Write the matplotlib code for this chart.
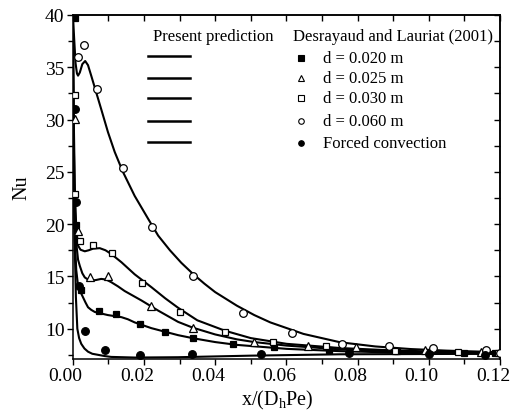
import numpy as np
import matplotlib
matplotlib.use('Agg')
import matplotlib.pyplot as plt
import matplotlib.transforms as mtransforms
from matplotlib.ticker import MultipleLocator, FormatStrFormatter

plt.rcParams['font.family'] = 'Liberation Serif'
plt.rcParams['mathtext.fontset'] = 'custom'
plt.rcParams['mathtext.rm'] = 'Liberation Serif'
plt.rcParams['mathtext.it'] = 'Liberation Serif:italic'

# Present prediction (solid curves)
x_pred_060 = [0.0, 0.0004, 0.0008, 0.0012, 0.0015, 0.002, 0.0027, 0.0035, 0.0043, 0.0052, 0.0066, 0.008,
              0.0099, 0.0118, 0.0141, 0.0174, 0.0212, 0.024, 0.0273, 0.0305, 0.0339, 0.037, 0.040, 0.0461,
              0.051, 0.0555, 0.0648, 0.0751, 0.085, 0.095, 0.105, 0.12]
y_pred_060 = [40.5, 37.8, 35.4, 34.4, 34.2, 34.5, 35.3, 35.6, 35.2, 34.2, 32.6, 31.0,
              28.8, 26.9, 25.0, 22.7, 20.5, 18.9, 17.5, 16.3, 15.2, 14.3, 13.5, 12.2,
              11.3, 10.6, 9.5, 8.7, 8.3, 8.05, 7.9, 7.75]

x_pred_030 = [0.0, 0.0003, 0.0006, 0.001, 0.0015, 0.0022, 0.0034, 0.0045, 0.0057, 0.0076, 0.0092, 0.0108,
              0.0137, 0.0174, 0.0221, 0.026, 0.0296, 0.035, 0.0428, 0.05, 0.0601, 0.0751, 0.09, 0.105, 0.12]
y_pred_030 = [40.5, 30.0, 23.5, 19.6, 17.95, 17.55, 17.4, 17.5, 17.65, 17.7, 17.5, 17.15,
              16.35, 15.2, 13.97, 12.9, 12.0, 10.8, 9.8, 9.1, 8.55, 8.15, 7.92, 7.78, 7.65]

x_pred_025 = [0.0, 0.0003, 0.0006, 0.001, 0.0015, 0.002, 0.0027, 0.0034, 0.0043, 0.0052, 0.0065, 0.008,
              0.0094, 0.0108, 0.0127, 0.0146, 0.0193, 0.024, 0.0296, 0.0337, 0.040, 0.0461, 0.051, 0.0601,
              0.0751, 0.09, 0.105, 0.12]
y_pred_025 = [40.5, 28.0, 21.5, 18.2, 16.6, 16.0, 15.3, 14.9, 14.7, 14.6, 14.65, 14.76,
              14.7, 14.45, 14.05, 13.6, 12.7, 11.73, 10.65, 10.1, 9.45, 8.98, 8.72, 8.38,
              8.02, 7.82, 7.7, 7.6]

x_pred_020 = [0.0, 0.0003, 0.0006, 0.001, 0.0015, 0.0022, 0.0029, 0.0036, 0.0043, 0.0052, 0.0062, 0.008,
              0.0099, 0.0118, 0.0137, 0.0155, 0.0174, 0.0221, 0.026, 0.0296, 0.0339, 0.040, 0.0461, 0.0601,
              0.0751, 0.09, 0.105, 0.12]
y_pred_020 = [40.5, 25.0, 18.5, 15.6, 14.1, 13.5, 13.0, 12.5, 12.05, 11.8, 11.6, 11.45,
              11.3, 11.2, 11.1, 10.9, 10.6, 10.05, 9.7, 9.38, 9.08, 8.72, 8.45, 8.07,
              7.85, 7.72, 7.65, 7.6]

x_pred_fc = [0.0, 0.0002, 0.0004, 0.0006, 0.0009, 0.0013, 0.0018, 0.0024, 0.0033, 0.0043, 0.0055, 0.0071,
             0.009, 0.0108, 0.0174, 0.0296, 0.05, 0.075, 0.12]
y_pred_fc = [40.5, 30.0, 22.0, 17.5, 13.0, 10.0, 9.1, 8.55, 8.1, 7.8, 7.6, 7.5,
             7.38, 7.3, 7.24, 7.27, 7.42, 7.55, 7.6]

# Desrayaud and Lauriat (2001) data points
x_d020 = [0.0006, 0.0008, 0.0024, 0.0073, 0.0121, 0.019, 0.026, 0.0339, 0.045, 0.0564, 0.072, 0.091, 0.11, 0.1185]
y_d020 = [39.7, 19.9, 13.74, 11.73, 11.4, 10.4, 9.73, 9.1, 8.55, 8.2, 8.0, 7.85, 7.7, 7.7]

x_d025 = [0.0007, 0.0015, 0.0048, 0.0099, 0.0219, 0.0337, 0.051, 0.0662, 0.0796, 0.099, 0.1147]
y_d025 = [30.1, 19.3, 14.9, 15.0, 12.15, 10.1, 8.77, 8.38, 8.23, 7.97, 7.75]

x_d030 = [0.0007, 0.0007, 0.0021, 0.0057, 0.0109, 0.0195, 0.0302, 0.0428, 0.0562, 0.0712, 0.0904, 0.1081, 0.1194]
y_d030 = [32.35, 22.9, 18.4, 18.04, 17.25, 14.4, 11.6, 9.66, 8.77, 8.3, 7.9, 7.75, 7.7]

x_d060 = [0.0015, 0.0032, 0.0069, 0.0141, 0.0224, 0.0339, 0.0478, 0.0616, 0.0756, 0.0887, 0.1012, 0.1162, 0.12]
y_d060 = [35.95, 37.1, 32.9, 25.4, 19.76, 15.0, 11.5, 9.57, 8.55, 8.33, 8.17, 8.0, 7.7]

x_fc = [0.0006, 0.0008, 0.0019, 0.0035, 0.009, 0.019, 0.0334, 0.0529, 0.0777, 0.1, 0.1158]
y_fc = [31.0, 22.1, 14.06, 9.78, 8.0, 7.5, 7.6, 7.6, 7.7, 7.6, 7.45]

labels = ['d = 0.020 m', 'd = 0.025 m', 'd = 0.030 m', 'd = 0.060 m', 'Forced convection']
markers = ['s', '^', 's', 'o', 'o']
fills = ['black', 'white', 'white', 'white', 'black']
sizes = [5, 5.5, 5, 5.5, 5.5]

fig = plt.figure(figsize=(5.12, 4.14), dpi=100)
ax = fig.add_axes([72.7 / 512, 1 - 360 / 414, 427.3 / 512, 344 / 414])

for xs, ys in [(x_pred_060, y_pred_060), (x_pred_030, y_pred_030), (x_pred_025, y_pred_025),
               (x_pred_020, y_pred_020), (x_pred_fc, y_pred_fc)]:
    ax.plot(xs, ys, color='black', lw=1.5, zorder=2)

series = [(x_d020, y_d020), (x_d025, y_d025), (x_d030, y_d030), (x_d060, y_d060), (x_fc, y_fc)]
for (xs, ys), m, fc, ms in zip(series, markers, fills, sizes):
    ax.plot(xs, ys, ls='none', marker=m, ms=ms, mfc=fc, mec='black', mew=0.9, zorder=3)

ax.set_xlim(0, 0.12)
ax.set_ylim(7.1, 40)

# custom legend
ax.text(0.188, 0.940, 'Present prediction', transform=ax.transAxes, ha='left', va='center', fontsize=12)
ax.text(0.5156, 0.940, 'Desrayaud and Lauriat (2001)', transform=ax.transAxes, ha='left', va='center',
        fontsize=12)
line_rows = [0.880, 0.817, 0.758, 0.693, 0.632]
mark_rows = [0.875, 0.817, 0.758, 0.693, 0.627]
for yl in line_rows:
    ax.plot([0.177, 0.2746], [yl, yl], color='black', lw=1.8, transform=ax.transAxes, clip_on=False)
for ym, lab, m, fc in zip(mark_rows, labels, markers, fills):
    ax.plot([0.534], [ym], ls='none', marker=m, ms=4, mfc=fc, mec='black', mew=0.8,
            transform=ax.transAxes, clip_on=False)
    ax.text(0.586, ym, lab, transform=ax.transAxes, ha='left', va='center', fontsize=12)

# ticks
ax.xaxis.set_major_locator(MultipleLocator(0.02))
ax.xaxis.set_minor_locator(MultipleLocator(0.01))
ax.xaxis.set_major_formatter(FormatStrFormatter('%.2f'))
ax.yaxis.set_major_locator(MultipleLocator(5))
ax.yaxis.set_minor_locator(MultipleLocator(2.5))
ax.tick_params(which='both', direction='out', labelsize=14, width=1, pad=2)
ax.tick_params(which='major', length=4)
ax.tick_params(which='minor', length=3.5)

# x tick labels sit a little left of their ticks in the original
shift = mtransforms.ScaledTranslation(-7 / 100, 0, fig.dpi_scale_trans)
for lbl in ax.get_xticklabels():
    lbl.set_transform(lbl.get_transform() + shift)

top = ax.secondary_xaxis('top')
top.xaxis.set_major_locator(MultipleLocator(0.02))
top.xaxis.set_minor_locator(MultipleLocator(0.01))
top.tick_params(which='both', direction='in', labeltop=False, width=1, length=4)
right = ax.secondary_yaxis('right')
right.yaxis.set_major_locator(MultipleLocator(2.5))
right.tick_params(which='both', direction='in', labelright=False, width=1, length=4)

for sp in list(ax.spines.values()) + [top.spines['top'], right.spines['right']]:
    sp.set_linewidth(1.1)

ax.set_xlabel(r'x/(D$_\mathrm{h}$Pe)', fontsize=14.5, va='center')
ax.set_ylabel('Nu', fontsize=14.5, va='center')
ax.xaxis.set_label_coords(0.478, -0.119)
ax.yaxis.set_label_coords(-0.119, 0.5)

fig.savefig('out.png', dpi=100)
